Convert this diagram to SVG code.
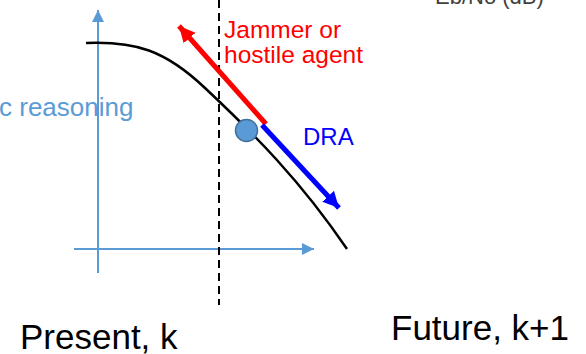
<svg xmlns="http://www.w3.org/2000/svg" width="586" height="354" viewBox="0 0 586 354">
<style>
text{font-family:"Liberation Sans",Arial,sans-serif}
.axis{stroke:#5b9bd5;stroke-width:2;fill:none}
.lbl{font-size:35px;fill:#000}
</style>
<defs>
<marker id="ahBlueAxis" markerUnits="userSpaceOnUse" markerWidth="14" markerHeight="14" refX="12" refY="6" orient="auto"><path d="M0,0 L12,6 L0,12 Z" fill="#5b9bd5"/></marker>
<marker id="ahRed" markerUnits="userSpaceOnUse" markerWidth="20" markerHeight="20" refX="16" refY="8" orient="auto"><path d="M0,0 L16,8 L0,16 Z" fill="#ff0000"/></marker>
<marker id="ahBlue" markerUnits="userSpaceOnUse" markerWidth="20" markerHeight="20" refX="16" refY="8" orient="auto"><path d="M0,0 L16,8 L0,16 Z" fill="#0000ff"/></marker>
</defs>
<g id="axes">
<line class="axis" x1="98" y1="273" x2="98" y2="10" marker-end="url(#ahBlueAxis)"/>
<line class="axis" x1="74" y1="249" x2="314" y2="249" marker-end="url(#ahBlueAxis)"/>
</g>
<g id="divider"><line x1="219" y1="0" x2="219" y2="305" stroke="#000" stroke-width="2" stroke-dasharray="8,5"/></g>
<g id="curve"><path d="M86,43 C135,41 165,50 205,88 C255,135 300,180 347,249" fill="none" stroke="#000" stroke-width="2.5"/></g>
<g id="connectors">
<line x1="266" y1="124" x2="179" y2="26" stroke="#ff0000" stroke-width="5" marker-end="url(#ahRed)"/>
<line x1="262" y1="125" x2="339" y2="208" stroke="#0000ff" stroke-width="5" marker-end="url(#ahBlue)"/>
</g>
<g id="state"><circle cx="246.5" cy="130.5" r="11" fill="#5b9bd5" stroke="#41719c" stroke-width="1.5"/></g>
<g id="labels">
<text x="435" y="4" font-size="22" fill="#404040">Eb/No (dB)</text>
<text x="224" y="38" font-size="24.5" fill="#ff0000">Jammer or</text>
<text x="224" y="63" font-size="24.5" fill="#ff0000">hostile agent</text>
<text x="303" y="145" font-size="24" fill="#0000ff">DRA</text>
<text x="-1" y="116" font-size="26" fill="#5b9bd5">c reasoning</text>
<text class="lbl" x="20" y="349">Present, k</text>
<text class="lbl" x="391" y="340">Future, k+1</text>
</g>
</svg>
